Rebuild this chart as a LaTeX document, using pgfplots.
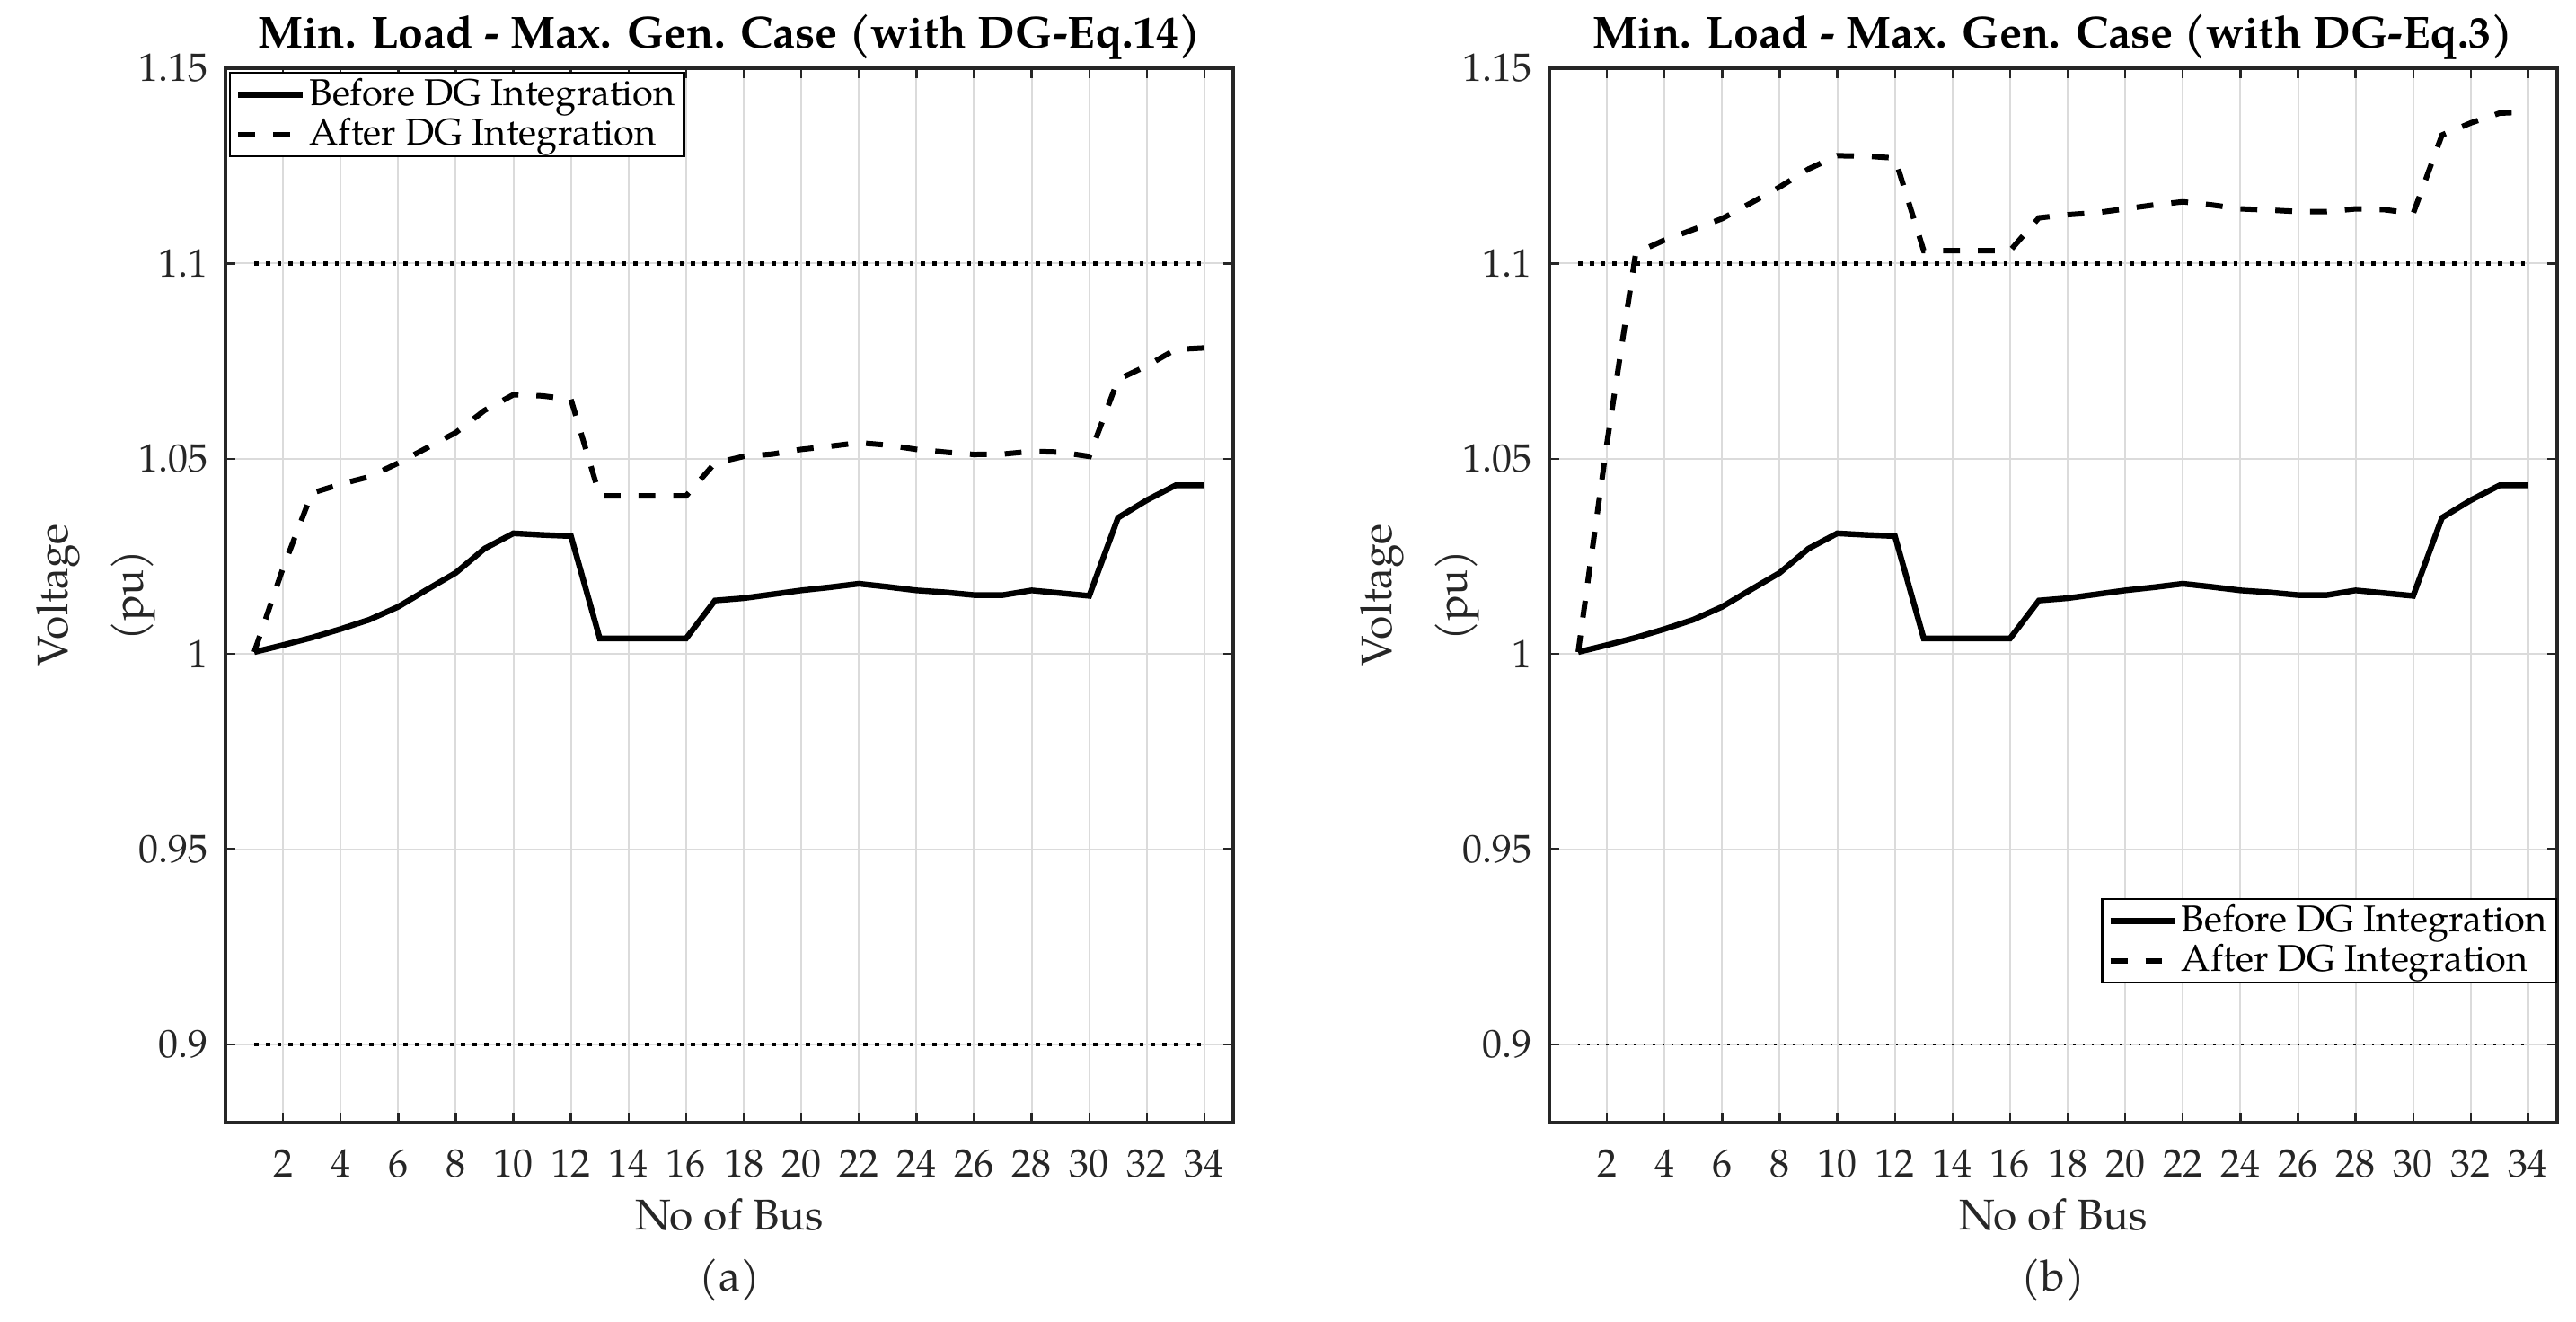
\documentclass[border=0pt]{standalone}
\usepackage{fontspec}
\setmainfont{TeX Gyre Pagella}
\usepackage{pgfplots}
\pgfplotsset{compat=1.18}

\pgfplotstableread{
x before afterA afterB
1  1.0005 1.0005 1.0005
2  1.0023 1.0220 1.0540
3  1.0042 1.0412 1.1027
4  1.0064 1.0435 1.1060
5  1.0088 1.0454 1.1087
6  1.0121 1.0489 1.1115
7  1.0165 1.0528 1.1155
8  1.0208 1.0567 1.1196
9  1.0270 1.0624 1.1242
10 1.0309 1.0664 1.1276
11 1.0305 1.0661 1.1275
12 1.0302 1.0652 1.1270
13 1.0040 1.0405 1.1033
14 1.0040 1.0405 1.1033
15 1.0040 1.0405 1.1033
16 1.0040 1.0405 1.1033
17 1.0137 1.0489 1.1117
18 1.0143 1.0506 1.1125
19 1.0153 1.0512 1.1130
20 1.0163 1.0524 1.1140
21 1.0171 1.0532 1.1150
22 1.0180 1.0541 1.1158
23 1.0172 1.0535 1.1150
24 1.0163 1.0524 1.1140
25 1.0158 1.0517 1.1137
26 1.0151 1.0511 1.1133
27 1.0151 1.0512 1.1133
28 1.0163 1.0519 1.1140
29 1.0156 1.0517 1.1138
30 1.0149 1.0506 1.1128
31 1.0349 1.0703 1.1329
32 1.0394 1.0738 1.1360
33 1.0432 1.0780 1.1385
34 1.0432 1.0784 1.1388
}\datatable

\pgfplotsset{
  vstyle/.style={
    scale only axis, width=280.5pt, height=293.5pt,
    xmin=0, xmax=35, ymin=0.88, ymax=1.15,
    xtick={2,4,...,34},
    xticklabels={2,4,6,8,10,12,14,16,18,20,22,24,26,28,30,32,34},
    ytick={0.9,0.95,1,1.05,1.1,1.15},
    yticklabels={0.9,0.95,1,1.05,1.1,1.15},
    grid=major,
    major grid style={draw=black!14, line width=0.5pt},
    axis line style={line width=0.8pt, draw=black!85},
    major tick length=2.75pt,
    tick style={line width=0.6pt, draw=black!85},
    tick align=inside,
    ticklabel style={font=\fontsize{11}{13}\selectfont, text=black!85},
    xticklabel style={yshift=-4pt},
    yticklabel style={xshift=-1.25pt},
    xlabel={No of Bus},
    ylabel={Voltage\\(pu)},
    label style={font=\fontsize{12}{21}\selectfont, text=black!85},
    xlabel style={yshift=1pt},
    ylabel style={align=center, at={([xshift=-16pt]axis description cs:0,0.5)}, anchor=south},
    title style={font=\bfseries\fontsize{12.5}{15}\selectfont, at={(0.5,1)}, anchor=base, yshift=-0.25pt},
    legend cell align=left,
    legend image code/.code={\draw[##1] (0pt,0pt) -- (18pt,0pt);},
    legend style={draw=black, line width=0.6pt, font=\fontsize{10.4}{12}\selectfont,
      inner xsep=1.5pt, inner ysep=0.5pt, row sep=0pt, nodes={inner sep=1pt}},
  },
  before/.style={black, line width=1.6pt, solid},
  after/.style={black, line width=1.5pt, dash pattern=on 4.7pt off 5pt},
  limit/.style={black, line width=1.2pt, dotted},
}

\begin{document}
\begin{tikzpicture}
\begin{axis}[vstyle, name=A,
  title={Min. Load - Max. Gen. Case (with DG-Eq.14)},
  legend style={at={(0,1)}, anchor=north west, xshift=1pt, yshift=-1pt}]
  \addplot[limit, forget plot] coordinates {(1,1.1) (34,1.1)};
  \addplot[limit, forget plot] coordinates {(1,0.9) (34,0.9)};
  \addplot[before] table[x=x, y=before] {\datatable};
  \addlegendentry{Before DG Integration}
  \addplot[after] table[x=x, y=afterA] {\datatable};
  \addlegendentry{After DG Integration}
\end{axis}
\node[font=\fontsize{12}{14}\selectfont, text=black!85, anchor=base] at ([yshift=-46.75pt]A.south) {(a)};

\begin{axis}[vstyle, name=B, at={(368.5pt,0pt)},
  title={Min. Load - Max. Gen. Case (with DG-Eq.3)},
  legend style={at={(1,0.132)}, anchor=south east}]
  \addplot[limit, forget plot] coordinates {(1,1.1) (34,1.1)};
  \addplot[black, line width=0.6pt, dotted, forget plot] coordinates {(1,0.9) (34,0.9)};
  \addplot[before] table[x=x, y=before] {\datatable};
  \addlegendentry{Before DG Integration}
  \addplot[after] table[x=x, y=afterB] {\datatable};
  \addlegendentry{After DG Integration}
\end{axis}
\node[font=\fontsize{12}{14}\selectfont, text=black!85, anchor=base] at ([yshift=-46.75pt]B.south) {(b)};

\pgfresetboundingbox
\path[use as bounding box] (-62.75pt,-55.25pt) rectangle (654.25pt,312.5pt);
\end{tikzpicture}
\end{document}
